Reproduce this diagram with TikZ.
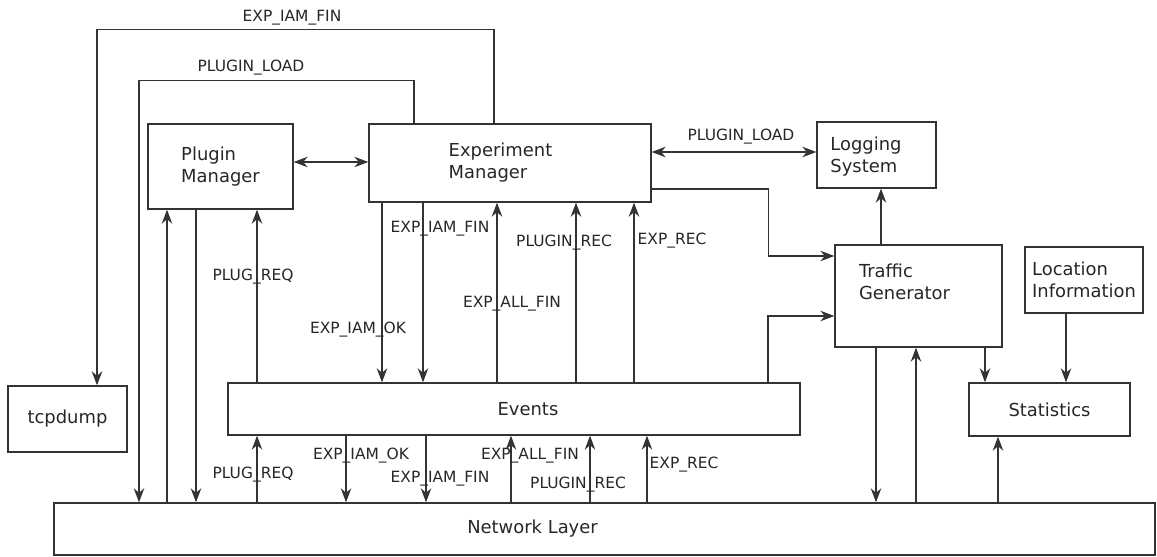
\documentclass[tikz,border=0pt]{standalone}
\usepackage{fontspec}
\setmainfont{DejaVu Sans}
\usetikzlibrary{arrows.meta}

\begin{document}
\begin{tikzpicture}[
  x=0.02cm, y=-0.02cm,
  line width=0.6pt,
  box/.style={draw, line width=0.8pt, black!80, text=black!85, inner sep=0pt,
              font=\fontsize{10.2}{12.5}\selectfont, align=left},
  txt/.style={inner sep=0pt, text=black!85,
              font=\fontsize{10.2}{12.5}\selectfont, align=left},
  lbl/.style={inner sep=0pt, text=black!85, font=\fontsize{8.8}{10}\selectfont},
  ar/.style={-{Stealth[length=2.8mm, width=2.1mm, inset=0.9mm]}, black!80},
  dar/.style={{Stealth[length=2.8mm, width=2.1mm, inset=0.9mm]}-{Stealth[length=2.8mm, width=2.1mm, inset=0.9mm]}, black!80},
]
\useasboundingbox (0,0) rectangle (1157,557);

% components
\node[box, minimum width=2.9cm, minimum height=1.7cm] (pm) at (220.5,166.5) {Plugin\\Manager};
\node[box, minimum width=5.64cm, minimum height=1.56cm,
      label={[txt, xshift=-0.19cm]center:Experiment\\Manager}] (em) at (510,163) {};
\node[box, minimum width=2.38cm, minimum height=1.32cm,
      label={[txt, xshift=-0.21cm, yshift=-0.04cm]center:Logging\\System}] (ls) at (876.5,155) {};
\node[box, minimum width=3.34cm, minimum height=2.04cm,
      label={[txt, xshift=-0.28cm, yshift=0.28cm]center:Traffic\\Generator}] (tg) at (918.5,296) {};
\node[box, minimum width=2.36cm, minimum height=1.32cm] (loc) at (1084,280) {Location\\Information};
\node[box, minimum width=3.22cm, minimum height=1.06cm] (st) at (1049.5,409.5) {Statistics};
\node[box, minimum width=11.44cm, minimum height=1.04cm,
      label={[txt, xshift=0.28cm]center:Events}] (ev) at (514,409) {};
\node[box, minimum width=2.38cm, minimum height=1.32cm] (tcp) at (67.5,419) {tcpdump};
\node[box, minimum width=22.02cm, minimum height=1.04cm,
      label={[txt, xshift=-1.44cm]center:Network Layer}] (nl) at (604.5,529) {};

% loops out of the experiment manager
\draw[ar] (em.north -| 494,0) -- ++(0,-94) -| (tcp.north -| 97,0);
\draw[ar] (em.north -| 414,0) -- ++(0,-43) -| (nl.north -| 139,0);
\node[lbl] (lfin) at (292,18) {EXP\_IAM\_FIN};
\node[lbl] (lload) at (251,68) {PLUGIN\_LOAD};

% plugin manager
\draw[dar] (pm.east |- 0,162) -- (em.west |- 0,162);
\draw[ar] (nl.north -| 167,0) -- (pm.south -| 167,0);
\draw[ar] (pm.south -| 196,0) -- (nl.north -| 196,0);
\draw[ar] (ev.north -| 257,0) -- (pm.south -| 257,0);
\draw[ar] (nl.north -| 257,0) -- (ev.south -| 257,0);
\node[lbl] (lreq1) at (253,277) {PLUG\_REQ};
\node[lbl] (lreq2) at (253,475) {PLUG\_REQ};

% experiment manager <-> events
\foreach \x in {382,423} {\draw[ar] (em.south -| \x,0) -- (ev.north -| \x,0);}
\foreach \x in {497,576,634} {\draw[ar] (ev.north -| \x,0) -- (em.south -| \x,0);}
\node[lbl] (lok1) at (358,330) {EXP\_IAM\_OK};
\node[lbl] (lfin1) at (440,229) {EXP\_IAM\_FIN};
\node[lbl] (lall1) at (512,304) {EXP\_ALL\_FIN};
\node[lbl] (lrec1) at (564,243) {PLUGIN\_REC};
\node[lbl] (lexp1) at (672,241) {EXP\_REC};

% events <-> network layer
\foreach \x in {346,426} {\draw[ar] (ev.south -| \x,0) -- (nl.north -| \x,0);}
\foreach \x in {511,590,647} {\draw[ar] (nl.north -| \x,0) -- (ev.south -| \x,0);}
\node[lbl] (lok2) at (361,456) {EXP\_IAM\_OK};
\node[lbl] (lfin2) at (440,479) {EXP\_IAM\_FIN};
\node[lbl] (lall2) at (530,456) {EXP\_ALL\_FIN};
\node[lbl] (lrec2) at (578,485) {PLUGIN\_REC};
\node[lbl] (lexp2) at (684,465) {EXP\_REC};

% logging, traffic and statistics
\draw[dar] (em.east |- 0,152) -- (ls.west |- 0,152);
\node[lbl] (lload2) at (741,137) {PLUGIN\_LOAD};
\draw[ar] (em.east |- 0,189) -- ++(117,0) |- (tg.west |- 0,256);
\draw[ar] (ev.north -| 768,0) |- (tg.west |- 0,316);
\draw[ar] (tg.north -| 881,0) -- (ls.south -| 881,0);
\draw[ar] (tg.south -| 876,0) -- (nl.north -| 876,0);
\draw[ar] (nl.north -| 916,0) -- (tg.south -| 916,0);
\draw[ar] (tg.south -| 985,0) -- (st.north -| 985,0);
\draw[ar] (loc.south -| 1066,0) -- (st.north -| 1066,0);
\draw[ar] (nl.north -| 998,0) -- (st.south -| 998,0);
\end{tikzpicture}
\end{document}
